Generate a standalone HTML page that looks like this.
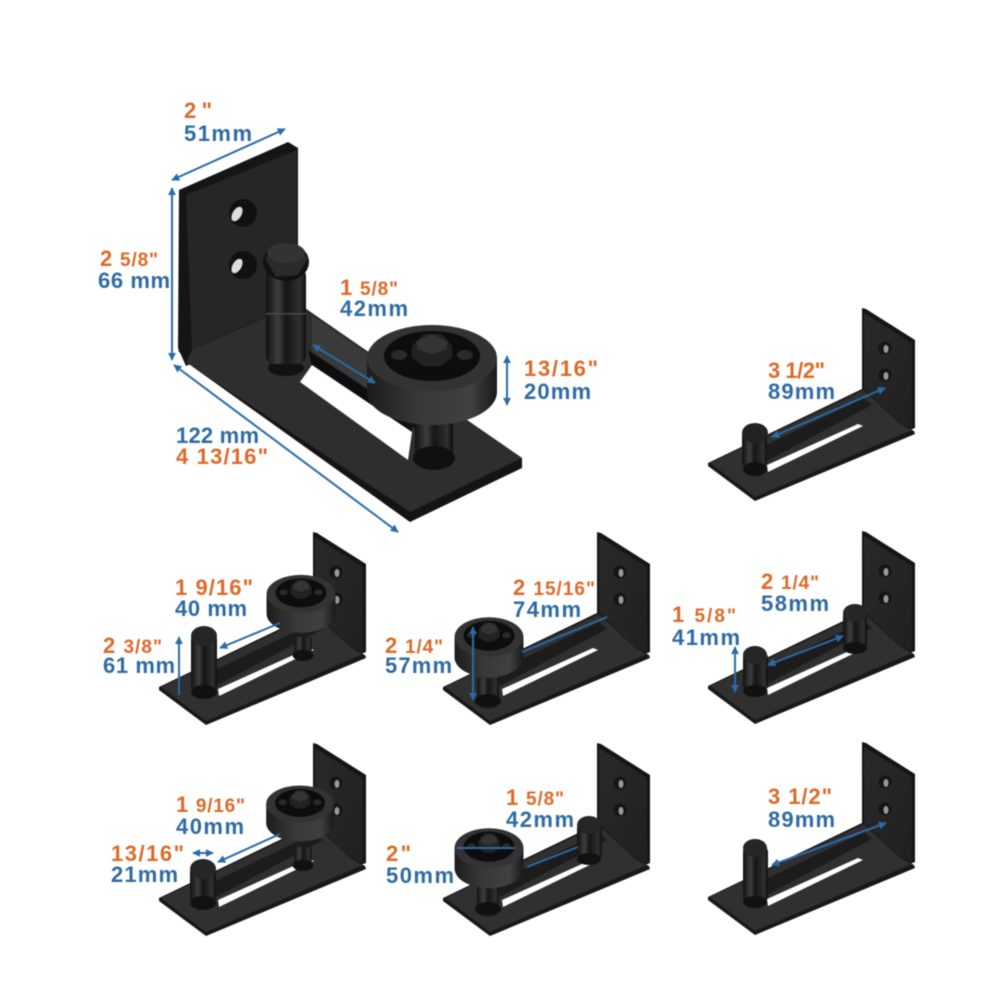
<!DOCTYPE html>
<html><head><meta charset="utf-8"><style>
html,body{margin:0;padding:0;background:#fff}
svg{display:block;filter:blur(.55px)}
text{font-family:"Liberation Sans",sans-serif;font-weight:bold;font-size:22px}
.o{fill:#dc6a28}.b{fill:#2f6ba3}
.s{font-size:19px}
.a{stroke:#2a6ba8;stroke-width:2;fill:none;marker-start:url(#m1);marker-end:url(#m2)}
</style></head><body>
<svg width="1000" height="1000" viewBox="0 0 1000 1000" xmlns="http://www.w3.org/2000/svg">
<defs>
<marker id="m2" viewBox="0 0 10 10" refX="9" refY="5" markerWidth="4" markerHeight="4" orient="auto" markerUnits="strokeWidth"><path d="M0 0L10 5L0 10Z" fill="#2a6ba8"/></marker>
<marker id="m1" viewBox="0 0 10 10" refX="1" refY="5" markerWidth="4" markerHeight="4" orient="auto" markerUnits="strokeWidth"><path d="M10 0L0 5L10 10Z" fill="#2a6ba8"/></marker>
<linearGradient id="pin"><stop offset="0" stop-color="#111"/><stop offset=".3" stop-color="#3e3e3e"/><stop offset=".5" stop-color="#161616"/><stop offset=".85" stop-color="#303030"/><stop offset="1" stop-color="#0e0e0e"/></linearGradient>
<linearGradient id="cyl"><stop offset="0" stop-color="#1c1c1c"/><stop offset=".4" stop-color="#383838"/><stop offset=".8" stop-color="#404040"/><stop offset="1" stop-color="#1a1a1a"/></linearGradient>
<linearGradient id="wall" x1="0" y1="0" x2="1" y2="1"><stop offset="0" stop-color="#2a2a2a"/><stop offset="1" stop-color="#202020"/></linearGradient>
<g id="br">
<polygon points="862,308 866,309 915,340 915,428 905,432 862,392" fill="#151515"/>
<polygon points="864,313 912,343 912,428 900,424 864,388" fill="url(#wall)"/>
<circle cx="885" cy="348" r="6.5" fill="#151515"/><ellipse cx="886" cy="349" rx="2.5" ry="4" fill="#999"/>
<circle cx="885" cy="375" r="6.5" fill="#151515"/><ellipse cx="886" cy="376" rx="2.5" ry="4" fill="#999"/>
<polygon points="708,463 864,388 900,424 914,431 915,434 755,501 708,466" fill="#181818"/>
<polygon points="710,463 864,390 900,424 912,430 755,497" fill="#303030"/>
<polygon points="762,447 864,398 872,405 765,462" fill="#1c1c1c"/>
<polygon points="767,465 858,424 863,426 768,472" fill="#fff"/>
</g>
<g id="wh">
<path d="M-65 0V34A65 33 0 0 0 65 34V0Z" fill="url(#cyl)"/>
<ellipse rx="65" ry="33" fill="#333"/>
<ellipse cy="-2" rx="48" ry="25" fill="#0d0d0d"/>
<ellipse cx="-33" cy="-3" rx="8" ry="5" fill="#2a2a2a"/>
<ellipse cx="33" cy="-3" rx="8" ry="5" fill="#2a2a2a"/>
<polygon points="-20,-12 -8,-24 10,-24 20,-12 20,0 8,8 -8,8 -20,0" fill="#222"/>
<polygon points="-15,-17 0,-24 15,-17 15,-9 0,-4 -15,-9" fill="#343434"/>
</g>
<g id="ax"><rect x="-11" y="-10" width="22" height="22" fill="url(#pin)"/><ellipse cy="13" rx="13" ry="7" fill="#111"/></g>
</defs>
<rect width="1000" height="1000" fill="#fff"/>

<polygon points="179,190 288,142 298,148 298,320 186,366 178,348" fill="#151515"/>
<polygon points="186,195 297,150 297,302 192,350" fill="#262626"/>
<circle cx="243" cy="213" r="14" fill="#111"/><ellipse cx="237" cy="214" rx="4.5" ry="8" transform="rotate(30 237 214)" fill="#ddd"/>
<circle cx="243" cy="265" r="14" fill="#111"/><ellipse cx="237" cy="266" rx="4.5" ry="8" transform="rotate(30 237 266)" fill="#ddd"/>
<polygon points="178,350 186,362 410,522 522,468 522,458 312,313 297,302 192,350" fill="#141414"/>
<polygon points="192,350 297,303 312,313 522,458 410,512 186,362" fill="#2e2e2e"/>
<polygon points="312,316 372,357 372,392 312,352" fill="#3a3a3a"/>
<polygon points="308,350 372,392 412,418 412,432 312,366" fill="#0e0e0e"/>
<polygon points="300,382 312,365 412,432 408,460" fill="#fff"/>
<polygon points="372,392 420,424 420,432 372,400" fill="#111"/>

<ellipse cx="286" cy="368" rx="18" ry="8" fill="#111"/>
<rect x="266" y="268" width="40" height="96" rx="8" fill="url(#pin)"/>
<rect x="266" y="313" width="40" height="1.5" fill="#4a4a4a"/>
<ellipse cx="286" cy="262" rx="23" ry="19" fill="#111"/>
<polygon points="265,258 278,248 296,248 308,258 298,275 276,277" fill="#2a2a2a"/>
<ellipse cx="286" cy="253" rx="19" ry="10" fill="#333"/>

<rect x="415" y="415" width="38" height="38" fill="url(#pin)"/>
<ellipse cx="434" cy="458" rx="21" ry="12" fill="#101010"/>
<use href="#wh" transform="translate(432 358)"/>

<use href="#br"/>
<use href="#br" transform="translate(-549 224)"/>
<use href="#br" transform="translate(-265 224)"/>
<use href="#br" transform="translate(0 223)"/>
<use href="#br" transform="translate(-549 435)"/>
<use href="#br" transform="translate(-265 435)"/>
<use href="#br" transform="translate(0 434)"/>

<g>
<rect x="742" y="430" width="25" height="38" rx="6" fill="url(#pin)"/><ellipse cx="755" cy="469" rx="12" ry="7" fill="#111"/><ellipse cx="755" cy="433" rx="13" ry="10" fill="#222"/>
<rect x="191" y="634" width="26" height="58" rx="6" fill="url(#pin)"/><ellipse cx="204" cy="692" rx="13" ry="7" fill="#111"/><ellipse cx="204" cy="636" rx="13" ry="10" fill="#262626"/>
<rect x="190" y="866" width="26" height="37" rx="6" fill="url(#pin)"/><ellipse cx="203" cy="903" rx="13" ry="7" fill="#111"/><ellipse cx="203" cy="869" rx="13" ry="10" fill="#262626"/>
<rect x="577" y="823" width="25" height="36" rx="6" fill="url(#pin)"/><ellipse cx="589" cy="859" rx="12" ry="6" fill="#111"/><ellipse cx="589" cy="825" rx="12" ry="9" fill="#262626"/>
<rect x="743" y="652" width="25" height="39" rx="6" fill="url(#pin)"/><ellipse cx="755" cy="691" rx="12" ry="6" fill="#111"/><ellipse cx="755" cy="655" rx="12" ry="9" fill="#262626"/>
<rect x="843" y="610" width="24" height="38" rx="6" fill="url(#pin)"/><ellipse cx="855" cy="648" rx="12" ry="6" fill="#111"/><ellipse cx="855" cy="613" rx="12" ry="9" fill="#262626"/>
<rect x="743" y="846" width="25" height="56" rx="6" fill="url(#pin)"/><ellipse cx="755" cy="902" rx="12" ry="6" fill="#111"/><ellipse cx="755" cy="848" rx="12" ry="9" fill="#262626"/>
</g>

<use href="#ax" transform="translate(303 645) scale(.8)"/>
<use href="#wh" transform="translate(301 594) scale(.53 .58)"/>
<use href="#ax" transform="translate(303 855) scale(.8)"/>
<use href="#wh" transform="translate(300 804) scale(.52 .56)"/>
<use href="#ax" transform="translate(488 688)"/>
<use href="#wh" transform="translate(489 637) scale(.53 .6)"/>
<use href="#ax" transform="translate(488 896)"/>
<use href="#wh" transform="translate(489 848) scale(.53 .6)"/>

<line class="a" x1="172" y1="180" x2="285" y2="129"/>
<line class="a" x1="172" y1="188" x2="172" y2="360"/>
<line class="a" x1="174" y1="365" x2="398" y2="532"/>
<line class="a" x1="313" y1="345" x2="375" y2="383"/>
<line class="a" x1="507" y1="356" x2="507" y2="405"/>
<line class="a" x1="772" y1="437" x2="885" y2="388"/>
<line class="a" x1="220" y1="648" x2="280" y2="623" style="marker-end:none"/>
<line class="a" x1="179" y1="695" x2="179" y2="637" style="marker-start:none"/>
<line class="a" x1="522" y1="652" x2="607" y2="617" style="marker-start:none;marker-end:none"/>
<line class="a" x1="473" y1="627" x2="473" y2="700"/>
<line class="a" x1="768" y1="665" x2="843" y2="636"/>
<line class="a" x1="735" y1="692" x2="735" y2="647"/>
<line class="a" x1="218" y1="862" x2="280" y2="834" style="marker-end:none"/>
<line class="a" x1="193" y1="853" x2="213" y2="853"/>
<line class="a" x1="457" y1="848" x2="515" y2="848" style="marker-start:none;marker-end:none"/>
<line class="a" x1="527" y1="867" x2="578" y2="847" style="marker-start:none;marker-end:none"/>
<line class="a" x1="772" y1="865" x2="886" y2="823"/>

<text class="o" x="184" y="118" textLength="28">2"</text>
<text class="b" x="184" y="141" textLength="68">51mm</text>
<text class="o" x="100" y="266" textLength="58">2 <tspan class="s">5/8"</tspan></text>
<text class="b" x="98" y="288" textLength="72">66 mm</text>
<text class="o" x="340" y="295" textLength="58">1 <tspan class="s">5/8"</tspan></text>
<text class="b" x="340" y="316" textLength="68">42mm</text>
<text class="o" x="524" y="376" textLength="74">13/16"</text>
<text class="b" x="524" y="399" textLength="67">20mm</text>
<text class="b" x="176" y="443" textLength="83">122 mm</text>
<text class="o" x="176" y="464" textLength="92">4 13/16"</text>

<text class="o" x="768" y="378" textLength="57">3 1/2"</text>
<text class="b" x="768" y="399" textLength="67">89mm</text>

<text class="o" x="175" y="595" textLength="78">1 9/16"</text>
<text class="b" x="175" y="616" textLength="72">40 mm</text>
<text class="o" x="103" y="653" textLength="59">2 <tspan class="s">3/8"</tspan></text>
<text class="b" x="103" y="673" textLength="72">61 mm</text>

<text class="o" x="513" y="595" textLength="82">2 <tspan class="s">15/16"</tspan></text>
<text class="b" x="513" y="617" textLength="68">74mm</text>
<text class="o" x="385" y="653" textLength="58">2 <tspan class="s">1/4"</tspan></text>
<text class="b" x="385" y="673" textLength="67">57mm</text>

<text class="o" x="761" y="589" textLength="58">2 <tspan class="s">1/4"</tspan></text>
<text class="b" x="761" y="611" textLength="68">58mm</text>
<text class="o" x="672" y="622" textLength="64">1 <tspan class="s">5/8"</tspan></text>
<text class="b" x="672" y="645" textLength="68">41mm</text>

<text class="o" x="176" y="812" textLength="69">1 <tspan class="s">9/16"</tspan></text>
<text class="b" x="176" y="834" textLength="68">40mm</text>
<text class="o" x="111" y="861" textLength="73">13/16"</text>
<text class="b" x="111" y="882" textLength="67">21mm</text>

<text class="o" x="506" y="805" textLength="58">1 <tspan class="s">5/8"</tspan></text>
<text class="b" x="506" y="827" textLength="68">42mm</text>
<text class="o" x="386" y="861" textLength="25">2"</text>
<text class="b" x="386" y="883" textLength="68">50mm</text>

<text class="o" x="768" y="804" textLength="64">3 1/2"</text>
<text class="b" x="768" y="827" textLength="67">89mm</text>
</svg>
</body></html>
